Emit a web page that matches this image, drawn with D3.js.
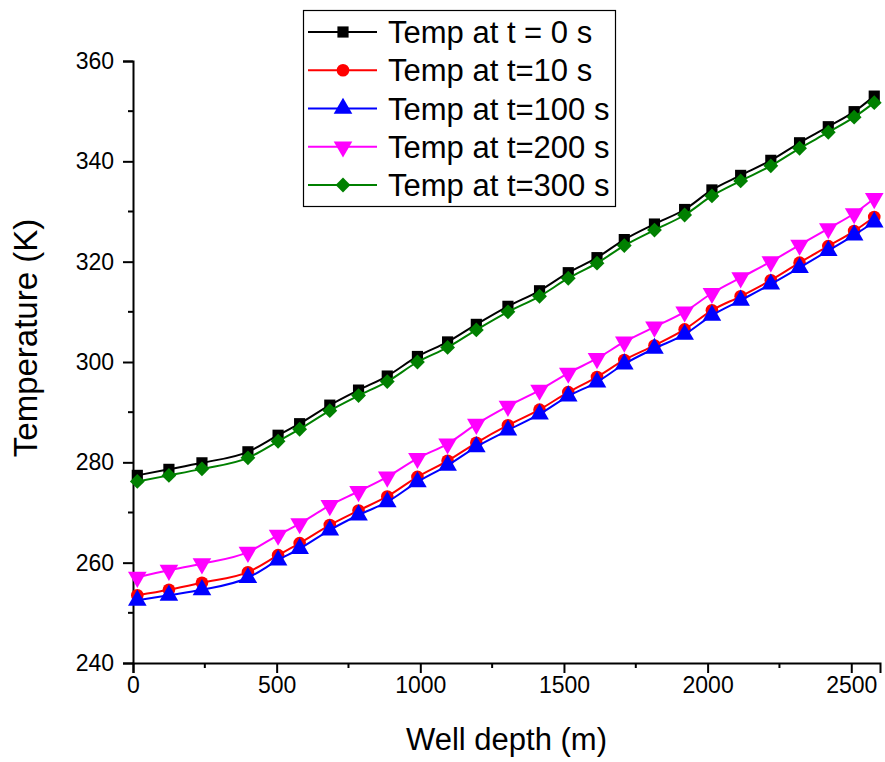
<!DOCTYPE html>
<html lang="en">
<head>
    <meta charset="UTF-8">
    <title>Well temperature profile</title>
    <script src="https://cdnjs.cloudflare.com/ajax/libs/d3/7.8.5/d3.min.js"></script>
    <style>
        html, body {
            margin: 0;
            padding: 0;
            background: #fff;
        }
        text {
            font-family: "Liberation Sans", Arial, sans-serif;
            fill: #000;
        }
    </style>
</head>
<body>
    <div id="chart"></div>
    <script>
        // depth of each sample point (m)
        const depth = [15, 125, 240, 400, 505, 580, 685, 785, 885, 990, 1095, 1195, 1305,
            1415, 1515, 1615, 1710, 1815, 1920, 2015, 2115, 2220, 2320, 2420, 2510, 2580];

        const temp0 = [277.4, 278.6, 279.9, 282.1, 285.4, 287.7, 291.4, 294.4, 297.2, 301.1,
            304.0, 307.5, 311.1, 314.2, 317.8, 320.8, 324.4, 327.5, 330.4, 334.3,
            337.2, 340.2, 343.7, 346.9, 349.9, 353.0];
        const temp10 = [253.5, 254.6, 256.0, 258.1, 261.5, 263.9, 267.5, 270.4, 273.2, 277.1,
            280.3, 283.9, 287.4, 290.5, 294.0, 297.0, 300.4, 303.3, 306.5, 310.3,
            313.1, 316.3, 319.8, 323.1, 326.1, 328.9];
        const temp100 = [252.5, 253.5, 254.6, 257.0, 260.5, 262.8, 266.5, 269.5, 272.1, 276.1,
            279.4, 283.1, 286.4, 289.6, 293.2, 296.0, 299.6, 302.7, 305.5, 309.3,
            312.3, 315.5, 318.8, 322.2, 325.3, 327.9];
        const temp200 = [257.1, 258.5, 259.8, 262.1, 265.5, 267.8, 271.4, 274.2, 277.1, 280.8,
            283.7, 287.6, 291.2, 294.4, 297.8, 300.7, 304.0, 307.0, 310.0, 313.7,
            316.8, 320.0, 323.3, 326.6, 329.6, 332.6];
        const temp300 = [276.2, 277.4, 278.7, 280.9, 284.2, 286.6, 290.3, 293.3, 296.1, 300.0,
            302.9, 306.4, 310.0, 313.1, 316.7, 319.7, 323.2, 326.3, 329.3, 333.1,
            336.1, 339.1, 342.6, 345.8, 348.8, 351.7];

        const seriesNames = ["Temp at t = 0 s", "Temp at t=10 s", "Temp at t=100 s", "Temp at t=200 s", "Temp at t=300 s"];
        const seriesValues = [temp0, temp10, temp100, temp200, temp300];
        const colors = ["#000000", "#ff0000", "#0000ff", "#ff00ff", "#008000"];
        // diamond = square turned 45 degrees, down triangle = triangle turned 180
        const symbols = [d3.symbolSquare, d3.symbolCircle, d3.symbolTriangle, d3.symbolTriangle, d3.symbolSquare];
        const symbolSizes = [125, 125, 150, 150, 110];
        const symbolRotate = [0, 0, 0, 180, 45];

        const xTicks = [0, 500, 1000, 1500, 2000, 2500];
        const yTicks = [240, 260, 280, 300, 320, 340, 360];

        const width = 885, height = 762;
        const margin = { left: 133, top: 61, right: 5, bottom: 99 };

        const svg = d3.select("#chart").append("svg")
            .attr("width", width)
            .attr("height", height);

        const x = d3.scaleLinear().domain([0, 2600]).range([margin.left, width - margin.right]);
        const y = d3.scaleLinear().domain([240, 360]).range([height - margin.bottom, margin.top]);

        // axes
        const xMinor = d3.range(250, 2600, 500);
        const yMinor = d3.range(250, 360, 20);

        const xAxis = svg.append("g")
            .attr("transform", `translate(0,${y(240)})`)
            .call(d3.axisBottom(x).tickValues(xTicks).tickSize(10).tickPadding(4).tickFormat(d3.format("d")));
        xAxis.select(".domain").attr("stroke-width", 2);
        xAxis.selectAll(".tick line").attr("stroke-width", 2);
        xAxis.selectAll("text").attr("font-size", 23).attr("font-family", "Liberation Sans, Arial, sans-serif");
        xAxis.selectAll(".minor").data(xMinor).join("line")
            .attr("class", "minor")
            .attr("x1", d => x(d)).attr("x2", d => x(d))
            .attr("y1", 0).attr("y2", 5)
            .attr("stroke", "#000").attr("stroke-width", 2);

        const yAxis = svg.append("g")
            .attr("transform", `translate(${x(0)},0)`)
            .call(d3.axisLeft(y).tickValues(yTicks).tickSize(10).tickPadding(9).tickFormat(d3.format("d")));
        yAxis.select(".domain").attr("stroke-width", 2);
        yAxis.selectAll(".tick line").attr("stroke-width", 2);
        yAxis.selectAll("text").attr("font-size", 23).attr("font-family", "Liberation Sans, Arial, sans-serif");
        yAxis.selectAll(".minor").data(yMinor).join("line")
            .attr("class", "minor")
            .attr("y1", d => y(d)).attr("y2", d => y(d))
            .attr("x1", 0).attr("x2", -5)
            .attr("stroke", "#000").attr("stroke-width", 2);

        // axis titles
        svg.append("text")
            .attr("x", (x(0) + x(2600)) / 2)
            .attr("y", 750)
            .attr("text-anchor", "middle")
            .attr("font-size", 31)
            .text("Well depth (m)");

        svg.append("text")
            .attr("transform", "translate(37,338) rotate(-90)")
            .attr("text-anchor", "middle")
            .attr("font-size", 33)
            .text("Temperature (K)");

        // series
        const line = d3.line()
            .x(d => x(d[0]))
            .y(d => y(d[1]))
            .curve(d3.curveMonotoneX);

        seriesValues.forEach((vals, i) => {
            const pts = depth.map((d, j) => [d, vals[j]]);
            const g = svg.append("g");
            g.append("path")
                .datum(pts)
                .attr("d", line)
                .attr("fill", "none")
                .attr("stroke", colors[i])
                .attr("stroke-width", 2);
            g.selectAll("path.pt").data(pts).join("path")
                .attr("class", "pt")
                .attr("d", d3.symbol().type(symbols[i]).size(symbolSizes[i]))
                .attr("transform", d => `translate(${x(d[0])},${y(d[1])}) rotate(${symbolRotate[i]})`)
                .attr("fill", colors[i]);
        });

        // legend
        const legend = svg.append("g");
        legend.append("rect")
            .attr("x", 303.5).attr("y", 10.5)
            .attr("width", 312).attr("height", 196)
            .attr("fill", "#fff")
            .attr("stroke", "#000")
            .attr("stroke-width", 1.2);

        const rowY = d3.scalePoint().domain(d3.range(seriesNames.length)).range([32, 185]);
        seriesNames.forEach((name, i) => {
            const ry = rowY(i);
            legend.append("line")
                .attr("x1", 308).attr("x2", 377)
                .attr("y1", ry).attr("y2", ry)
                .attr("stroke", colors[i]).attr("stroke-width", 2);
            legend.append("path")
                .attr("d", d3.symbol().type(symbols[i]).size(symbolSizes[i])())
                .attr("transform", `translate(343,${ry}) rotate(${symbolRotate[i]})`)
                .attr("fill", colors[i]);
            legend.append("text")
                .attr("x", 388)
                .attr("y", ry)
                .attr("dy", "0.36em")
                .attr("font-size", 31)
                .text(name);
        });
    </script>
</body>
</html>
